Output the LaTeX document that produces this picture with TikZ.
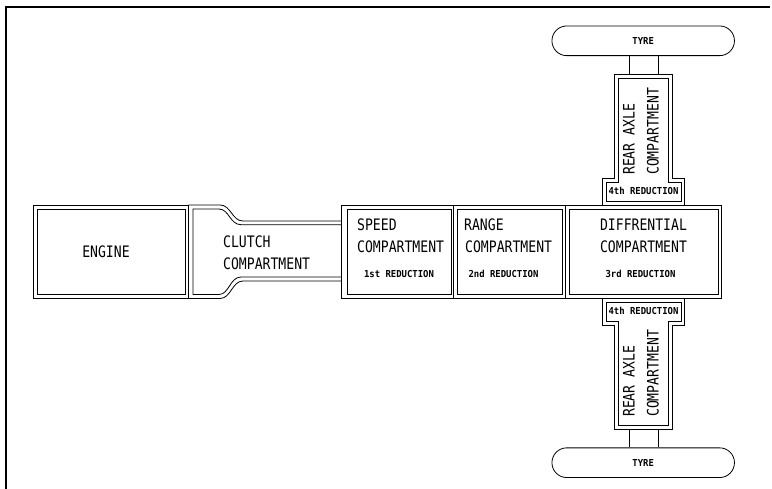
\documentclass[tikz,border=0pt]{standalone}
\usepackage{fontspec}
\newfontfamily\cadfont[FakeStretch=0.83]{DejaVu Sans Mono}
\newfontfamily\cadsmall[FakeStretch=0.93]{DejaVu Sans Mono}
\begin{document}
\begin{tikzpicture}[x=1pt,y=-1pt,
  wall/.style={line width=0.8pt, black},
  frameline/.style={line width=2.3pt, black},
  biglabel/.style={font=\cadfont\fontsize{15.8}{24}\selectfont, inner sep=0pt},
  smalllabel/.style={font=\cadsmall\bfseries\fontsize{9.6}{12}\selectfont, inner sep=0pt},
  tyre/.style={wall, draw, rounded corners=14.8pt, minimum width=182.5pt, minimum height=29.7pt, inner sep=0pt, font=\cadsmall\bfseries\fontsize{9.6}{12}\selectfont}
]
\useasboundingbox (0,0) rectangle (772,489);
% frame
\draw[frameline] (6,489) -- (6,7) -- (770,7);

% engine
\draw[wall] (33,205) rectangle (188.5,298.5);
\draw[wall] (37,209) rectangle (185,294.5);

% clutch outer
\draw[wall] (188.5,205) -- (220,205) .. controls (231,205) and (232,221) .. (243,221) -- (341.5,221);
\draw[wall] (188.5,298.5) -- (220,298.5) .. controls (231,298.5) and (232,281) .. (243,281) -- (341.5,281);
% clutch inner
\draw[wall] (341.5,224.7) -- (241,224.7) .. controls (230,224.7) and (229,209) .. (219,209) -- (193,209)
  -- (193,294.5) -- (219,294.5) .. controls (229,294.5) and (230,277) .. (241,277) -- (341.5,277);

% speed / range / diff block
\draw[wall] (341.5,205) rectangle (721,298.5);
\draw[wall] (453,205) -- (453,298.5);
\draw[wall] (565.5,205) -- (565.5,298.5);
\draw[wall] (347,209) rectangle (451,294.5);
\draw[wall] (457,209) rectangle (562,294.5);
\draw[wall] (569,209) rectangle (718,294.5);

% upper rear axle
\draw[wall] (602.5,205) -- (602.5,178) -- (614,178) -- (614,74) -- (672.5,74) -- (672.5,178) -- (684,178) -- (684,205);
\draw[wall] (606,201.5) -- (606,182.3) -- (618,182.3) -- (618,78) -- (668.5,78) -- (668.5,182.3) -- (681,182.3) -- (681,201.5) -- cycle;
% lower rear axle
\draw[wall] (602.5,298.5) -- (602.5,325.5) -- (614,325.5) -- (614,429.5) -- (672.5,429.5) -- (672.5,325.5) -- (684,325.5) -- (684,298.5);
\draw[wall] (606,302) -- (606,321.2) -- (618,321.2) -- (618,425.5) -- (668.5,425.5) -- (668.5,321.2) -- (681,321.2) -- (681,302) -- cycle;

% tyres
\node[tyre] (tyreT) at (643.2,40.8) {TYRE};
\node[tyre] (tyreB) at (643.2,462.7) {TYRE};
\coordinate (ta1) at (629,74);
\coordinate (ta2) at (658,74);
\coordinate (tb1) at (629,429.5);
\coordinate (tb2) at (658,429.5);
\draw[wall] (tyreT.south -| ta1) -- (ta1);
\draw[wall] (tyreT.south -| ta2) -- (ta2);
\draw[wall] (tyreB.north -| tb1) -- (tb1);
\draw[wall] (tyreB.north -| tb2) -- (tb2);

% labels
\node[biglabel] (engine) at (106,251.5) {ENGINE};
\node[biglabel, anchor=base west] (clutch1) at (223,248) {CLUTCH};
\node[biglabel, anchor=base west] (clutch2) at (223,270) {COMPARTMENT};
\node[biglabel, anchor=base west] (speed1) at (357,230.7) {SPEED};
\node[biglabel, anchor=base west] (speed2) at (357,253) {COMPARTMENT};
\node[smalllabel, anchor=base] (speed3) at (399,277.7) {1st REDUCTION};
\node[biglabel, anchor=base west] (range1) at (464,230.7) {RANGE};
\node[biglabel, anchor=base west] (range2) at (465,253) {COMPARTMENT};
\node[smalllabel, anchor=base] (range3) at (503.5,277.7) {2nd REDUCTION};
\node[biglabel, anchor=base] (diff1) at (643.5,230.7) {DIFFRENTIAL};
\node[biglabel, anchor=base] (diff2) at (643.5,253) {COMPARTMENT};
\node[smalllabel, anchor=base] (diff3) at (640.5,277.7) {3rd REDUCTION};
\node[smalllabel, anchor=base] (red4T) at (643.5,194.5) {4th REDUCTION};
\node[smalllabel, anchor=base] (red4B) at (643.5,315) {4th REDUCTION};
\node[biglabel, align=left, rotate=90, anchor=west] (axleT) at (641,175) {REAR AXLE\\COMPARTMENT};
\node[biglabel, align=left, rotate=90, anchor=west] (axleB) at (641,417) {REAR AXLE\\COMPARTMENT};
\end{tikzpicture}
\end{document}
